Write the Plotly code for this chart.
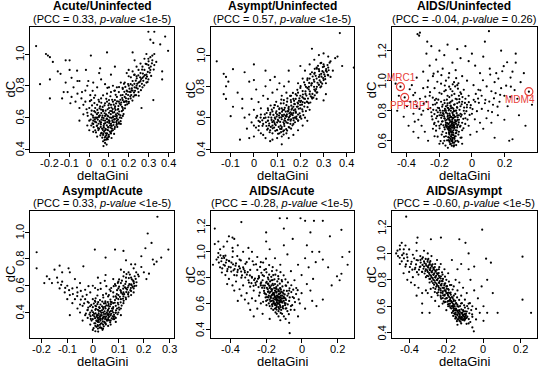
import plotly.graph_objects as go

W, H = 539, 372

# ---------------- data ----------------
panel_titles = ["Acute/Uninfected", "Asympt/Uninfected", "AIDS/Uninfected",
                "Asympt/Acute", "AIDS/Acute", "AIDS/Asympt"]
pcc_values = ["0.33", "0.57", "-0.04", "0.33", "-0.28", "-0.60"]
p_value_texts = ["<1e-5", "<1e-5", "= 0.26", "<1e-5", "<1e-5", "<1e-5"]
x_tick_values = [
    [-0.2, -0.1, 0, 0.1, 0.2, 0.3, 0.4],
    [-0.1, 0, 0.1, 0.2, 0.3, 0.4],
    [-0.4, -0.2, 0, 0.2],
    [-0.2, -0.1, 0, 0.1, 0.2, 0.3],
    [-0.4, -0.2, 0, 0.2],
    [-0.4, -0.2, 0, 0.2],
]
y_tick_values = [
    [0.4, 0.6, 0.8, 1.0],
    [0.4, 0.6, 0.8, 1.0],
    [0.6, 0.8, 1.0, 1.2],
    [0.4, 0.6, 0.8, 1.0],
    [0.4, 0.6, 0.8, 1.0, 1.2],
    [0.4, 0.6, 0.8, 1.0, 1.2],
]
x_label = "deltaGini"
y_label = "dC"

highlight_genes = ["MRC1", "PPFIBP1", "MDM4"]
highlight_x = [-0.44, -0.414, 0.351]
highlight_y = [0.96, 0.889, 0.927]

acute_vs_uninfected = [
    (0.01,0.62),(0.02,0.58),(0.03,0.66),(0.04,0.55),(0.05,0.61),(0.06,0.57),(0.07,0.64),(0.08,0.52),(0.09,0.59),(0.1,0.63),
    (0.11,0.56),(0.12,0.6),(0.13,0.66),(0.14,0.58),(0.15,0.62),(0.02,0.51),(0.04,0.68),(0.06,0.72),(0.08,0.69),(0.1,0.71),
    (0.12,0.7),(0.14,0.73),(0.16,0.68),(0.03,0.6),(0.05,0.53),(0.07,0.49),(0.09,0.47),(0.11,0.5),(0.13,0.54),(0.15,0.57),
    (0.0,0.66),(0.0,0.58),(-0.01,0.63),(-0.02,0.7),(0.01,0.55),(0.025,0.64),(0.035,0.57),(0.045,0.63),(0.055,0.67),(0.065,0.6),
    (0.075,0.56),(0.085,0.62),(0.095,0.54),(0.105,0.6),(0.115,0.64),(0.125,0.57),(0.135,0.62),(0.145,0.65),(0.155,0.6),(0.165,0.64),
    (0.07,0.45),(0.08,0.44),(0.09,0.5),(0.1,0.48),(0.085,0.46),(0.075,0.51),(0.065,0.53),(0.095,0.52),(0.105,0.55),(0.115,0.53),
    (0.03,0.52),(0.02,0.56),(0.04,0.6),(0.06,0.65),(0.08,0.58),(0.1,0.66),(0.12,0.63),(0.14,0.61),(0.11,0.68),(0.09,0.7),
    (0.05,0.7),(0.07,0.74),(0.13,0.71),(0.15,0.7),(0.17,0.66),(0.18,0.7),(0.06,0.5),(0.04,0.48),(0.12,0.52),(0.14,0.56),
    (0.01,0.71),(0.03,0.74),(-0.01,0.55),(0.0,0.52),(0.02,0.6),(0.16,0.56),(0.17,0.61),(0.13,0.59),(0.1,0.58),(0.08,0.61),
    (0.072,0.42),(0.088,0.43),
    (0.16,0.74),(0.17,0.78),(0.18,0.73),(0.19,0.77),(0.2,0.8),(0.21,0.76),(0.22,0.83),(0.23,0.79),(0.24,0.86),(0.25,0.82),
    (0.26,0.88),(0.27,0.85),(0.28,0.9),(0.29,0.87),(0.3,0.93),(0.31,0.9),(0.32,0.96),(0.33,0.93),(0.18,0.82),(0.2,0.86),
    (0.22,0.89),(0.24,0.92),(0.26,0.94),(0.28,0.97),(0.19,0.7),(0.21,0.72),(0.23,0.74),(0.25,0.76),(0.27,0.79),(0.29,0.82),
    (0.17,0.71),(0.2,0.69),(0.22,0.77),(0.24,0.8),(0.26,0.83),(0.23,0.87),(0.21,0.81),(0.25,0.9),(0.27,0.92),(0.3,0.84),
    (0.15,0.76),(0.14,0.79),(0.16,0.82),(0.13,0.77),(0.12,0.8),(0.11,0.76),(0.1,0.79),(0.09,0.75),(0.19,0.88),(0.31,0.98),
    (-0.03,0.68),(-0.04,0.72),(-0.05,0.66),(-0.06,0.75),(-0.07,0.7),(-0.02,0.77),(-0.08,0.79),(-0.09,0.73),(-0.03,0.62),(-0.01,0.8),
    (-0.05,0.58),(-0.12,0.82),(-0.13,0.76),(-0.06,0.83),(0.02,0.82),(0.04,0.79),(0.06,0.84),(0.08,0.81),(0.05,0.88),(0.11,0.87),
    (-0.27,1.05),(-0.25,0.81),(-0.22,1.0),(-0.21,0.99),(-0.2,0.98),(-0.2,0.84),(-0.2,0.72),(-0.185,0.95),(-0.16,0.89),(-0.146,0.875),
    (-0.138,0.72),(-0.12,0.96),(-0.1,0.96),(-0.1,0.9),(-0.09,0.85),(-0.11,0.76),(-0.096,0.69),(-0.062,0.895),(-0.05,0.83),(-0.037,0.76),
    (-0.017,0.9),(0.008,0.99),(-0.005,0.83),(0.09,1.01),(0.055,0.91),(0.13,0.92),(0.2,0.9),(0.22,1.01),(0.23,0.96),(0.3,1.14),
    (0.33,1.14),(0.31,1.09),(0.325,1.07),(0.36,1.06),(0.385,1.11),(0.4,1.02),(0.37,0.89),(0.37,0.84),(0.325,0.71),(0.265,0.66),
    (0.3,0.97),(0.32,0.99),(0.34,0.95),(0.33,1.0),(0.29,1.0),
]
acute_vs_uninfected_core = [
    (0.043,0.587),(0.067,0.612),(0.091,0.571),(0.112,0.598),(0.127,0.634),(0.058,0.541),(0.083,0.528),(0.104,0.512),(0.071,0.583),(0.096,0.607),
    (0.118,0.572),(0.139,0.596),(0.152,0.638),(0.031,0.633),(0.018,0.612),(0.052,0.658),(0.077,0.676),(0.101,0.688),(0.124,0.681),(0.148,0.672),
    (0.063,0.503),(0.087,0.489),(0.094,0.463),(0.079,0.474),(0.108,0.537),(0.123,0.553),(0.137,0.571),(0.046,0.521),(0.029,0.574),(0.012,0.643),
    (0.007,0.587),(0.022,0.539),(0.038,0.547),(0.049,0.603),(0.061,0.628),(0.073,0.597),(0.089,0.551),(0.099,0.583),(0.109,0.621),(0.121,0.608),
    (0.133,0.648),(0.143,0.627),(0.158,0.613),(0.171,0.647),(0.162,0.694),(0.141,0.702),(0.116,0.712),(0.093,0.652),(0.068,0.667),(0.041,0.648),
    (0.026,0.691),(0.014,0.676),(-0.008,0.611),(-0.014,0.652),(0.003,0.703),(0.057,0.567),(0.081,0.565),(0.097,0.538),(0.113,0.514),(0.128,0.528),
    (0.142,0.541),(0.084,0.501),(0.069,0.521),(0.053,0.577),(0.036,0.598),(0.101,0.566),(0.117,0.582),(0.131,0.608),(0.146,0.587),(0.159,0.577),
    (0.174,0.622),(0.181,0.658),(0.192,0.683),(0.176,0.698),(0.186,0.721),(0.197,0.742),(0.208,0.734),(0.214,0.771),(0.227,0.758),(0.238,0.787),
    (0.243,0.812),(0.256,0.798),(0.263,0.842),(0.274,0.831),(0.282,0.867),(0.293,0.858),(0.307,0.883),(0.312,0.921),(0.236,0.832),(0.219,0.803),
    (0.203,0.762),(0.187,0.748),(0.249,0.866),(0.268,0.902),(0.286,0.938),(0.301,0.954),(0.158,0.712),(0.169,0.742),(0.134,0.743),(0.107,0.734),
    (0.086,0.718),(0.061,0.693),(0.047,0.712),(0.024,0.724),(0.005,0.741),(0.017,0.768),(0.092,0.787),(0.127,0.768),(0.151,0.792),(0.176,0.812),
    (0.066,0.473),(0.077,0.458),(0.099,0.491),(0.056,0.488),(0.113,0.471),(0.126,0.497),(0.034,0.506),(0.047,0.561),(0.073,0.547),(0.088,0.593),
]
acute_vs_uninfected_arm = [
    (0.187,0.703),(0.198,0.718),(0.213,0.742),(0.224,0.731),(0.232,0.768),(0.246,0.782),(0.255,0.823),(0.267,0.812),(0.276,0.858),(0.288,0.846),
    (0.297,0.887),(0.304,0.912),(0.318,0.941),(0.291,0.936),(0.272,0.877),(0.258,0.853),(0.241,0.847),(0.229,0.812),(0.216,0.784),(0.204,0.782),
    (0.193,0.764),(0.178,0.762),(0.167,0.723),(0.154,0.687),(0.166,0.668),(0.183,0.678),(0.201,0.699),(0.219,0.707),(0.237,0.741),(0.251,0.737),
    (0.262,0.772),(0.279,0.803),(0.296,0.823),(0.314,0.862),(0.327,0.902),(0.228,0.868),(0.211,0.853),(0.197,0.811),(0.183,0.793),(0.169,0.787),
    (0.062,0.587),(0.078,0.627),(0.092,0.612),(0.106,0.641),(0.119,0.653),(0.131,0.671),(0.147,0.653),(0.136,0.689),(0.112,0.663),(0.097,0.677),
    (0.083,0.643),(0.069,0.648),(0.054,0.613),(0.039,0.621),(0.028,0.588),(0.016,0.563),(0.044,0.534),(0.059,0.556),(0.074,0.536),(0.091,0.523),
    (0.103,0.577),(0.114,0.547),(0.126,0.587),(0.138,0.553),(0.151,0.561),(0.163,0.597),(0.097,0.478),(0.082,0.482),(0.071,0.497),(0.108,0.503),
]

asympt_vs_uninfected = [
    (0.06,0.58),(0.07,0.62),(0.08,0.55),(0.09,0.6),(0.1,0.57),(0.11,0.63),(0.12,0.59),(0.13,0.56),(0.14,0.61),(0.15,0.65),
    (0.16,0.62),(0.17,0.67),(0.18,0.64),(0.19,0.69),(0.2,0.66),(0.08,0.64),(0.1,0.52),(0.12,0.54),(0.14,0.57),(0.16,0.59),
    (0.18,0.6),(0.2,0.7),(0.11,0.6),(0.13,0.62),(0.15,0.59),(0.17,0.63),(0.19,0.62),(0.09,0.56),(0.07,0.52),(0.05,0.6),
    (0.04,0.56),(0.03,0.62),(0.02,0.58),(0.06,0.66),(0.09,0.68),(0.12,0.66),(0.14,0.68),(0.16,0.7),(0.18,0.72),(0.1,0.62),
    (0.115,0.55),(0.125,0.61),(0.135,0.58),(0.145,0.64),(0.155,0.61),(0.165,0.66),(0.175,0.6),(0.185,0.67),(0.105,0.58),(0.095,0.63),
    (0.085,0.58),(0.075,0.6),(0.065,0.55),(0.055,0.63),(0.13,0.52),(0.11,0.5),(0.15,0.54),(0.17,0.56),(0.12,0.48),(0.1,0.47),
    (0.14,0.5),(0.08,0.5),(0.06,0.53),(0.16,0.53),(0.2,0.61),(0.21,0.64),(0.19,0.58),(0.13,0.65),(0.11,0.66),(0.15,0.67),
    (0.12,0.43),(0.08,0.46),(0.04,0.49),(0.02,0.52),(0.0,0.55),(0.01,0.6),(-0.01,0.57),(0.03,0.66),(-0.02,0.62),(0.0,0.65),
    (0.2,0.74),(0.21,0.77),(0.22,0.72),(0.23,0.79),(0.24,0.75),(0.25,0.82),(0.26,0.78),(0.27,0.85),(0.28,0.81),(0.29,0.88),
    (0.3,0.84),(0.31,0.9),(0.32,0.87),(0.22,0.81),(0.24,0.85),(0.26,0.88),(0.28,0.91),(0.3,0.94),(0.23,0.7),(0.25,0.73),
    (0.27,0.76),(0.29,0.8),(0.19,0.76),(0.21,0.7),(0.2,0.79),(0.18,0.75),(0.17,0.72),(0.16,0.74),(0.23,0.84),(0.25,0.89),
    (0.27,0.92),(0.29,0.95),(0.26,0.83),(0.28,0.86),(0.3,0.89),(0.32,0.92),(0.33,0.96),(0.24,0.94),(0.26,0.97),(0.22,0.9),
    (0.21,0.85),(0.19,0.82),(0.27,0.72),(0.31,0.82),(0.34,0.9),(0.28,1.0),(0.3,1.01),(0.25,1.04),(0.32,0.99),(0.35,0.98),
    (-0.04,0.6),(-0.03,0.53),(-0.05,0.66),(-0.02,0.47),(0.0,0.48),(0.02,0.7),(0.04,0.74),(0.06,0.72),(0.08,0.76),(0.05,0.8),
    (0.07,0.84),(0.1,0.78),(0.12,0.74),(0.13,0.8),(0.09,0.86),(0.11,0.82),(0.14,0.76),(0.15,0.83),(-0.01,0.72),(0.01,0.78),
    (0.03,0.5),(0.05,0.47),(0.07,0.45),(0.15,0.47),(0.17,0.49),(0.19,0.52),(0.21,0.55),(0.22,0.6),(0.24,0.65),(0.23,0.58),
    (-0.16,0.96),(-0.13,0.88),(-0.12,0.86),(-0.12,0.8),(-0.11,0.83),(-0.13,0.75),(-0.12,0.72),(-0.09,0.91),(-0.04,0.89),(0.0,0.94),
    (-0.02,0.83),(0.0,0.84),(0.05,0.9),(-0.1,0.61),(-0.09,0.67),(-0.06,0.46),(0.37,1.14),(0.36,0.99),(0.38,0.93),(0.43,0.92),
    (0.33,0.86),(0.3,0.71),(0.31,0.75),(0.2,0.93),(0.15,0.9),(-0.07,0.76),(-0.05,0.72),
]
asympt_vs_uninfected_core = [
    (0.103,0.587),(0.118,0.603),(0.127,0.571),(0.134,0.596),(0.142,0.621),(0.151,0.603),(0.163,0.628),(0.172,0.647),(0.181,0.631),(0.193,0.657),
    (0.088,0.571),(0.094,0.553),(0.107,0.541),(0.119,0.528),(0.131,0.547),(0.146,0.566),(0.158,0.581),(0.169,0.598),(0.183,0.607),(0.197,0.628),
    (0.076,0.586),(0.063,0.603),(0.071,0.631),(0.084,0.618),(0.097,0.641),(0.112,0.627),(0.124,0.648),(0.137,0.639),(0.149,0.661),(0.161,0.677),
    (0.174,0.688),(0.188,0.697),(0.203,0.708),(0.214,0.723),(0.207,0.683),(0.219,0.694),(0.226,0.741),(0.233,0.722),(0.241,0.768),(0.252,0.752),
    (0.259,0.797),(0.268,0.783),(0.274,0.823),(0.283,0.838),(0.291,0.862),(0.303,0.876),(0.311,0.911),(0.297,0.923),(0.281,0.897),(0.266,0.867),
    (0.248,0.818),(0.237,0.797),(0.222,0.768),(0.211,0.748),(0.196,0.723),(0.185,0.741),(0.173,0.708),(0.159,0.713),(0.143,0.702),(0.128,0.692),
    (0.052,0.571),(0.043,0.597),(0.037,0.548),(0.057,0.523),(0.068,0.507),(0.081,0.532),(0.092,0.516),(0.104,0.497),(0.117,0.508),(0.128,0.492),
    (0.139,0.527),(0.153,0.537),(0.166,0.551),(0.177,0.571),(0.191,0.583),(0.204,0.594),(0.213,0.617),(0.224,0.642),(0.231,0.667),(0.243,0.697),
    (0.251,0.722),(0.262,0.743),(0.273,0.762),(0.286,0.794),(0.294,0.817),(0.307,0.846),(0.318,0.873),(0.322,0.903),(0.287,0.948),(0.276,0.931),
    (0.262,0.912),(0.243,0.878),(0.231,0.851),(0.216,0.826),(0.201,0.801),(0.187,0.778),(0.026,0.573),(0.014,0.611),(0.009,0.537),(0.098,0.607),
    (0.113,0.573),(0.121,0.617),(0.136,0.612),(0.147,0.587),(0.157,0.634),(0.109,0.654),(0.086,0.663),(0.072,0.678),(0.096,0.701),(0.118,0.716),
]
asympt_vs_uninfected_band = [
    (0.131,0.583),(0.141,0.607),(0.153,0.627),(0.167,0.617),(0.178,0.653),(0.189,0.671),(0.199,0.681),(0.208,0.653),(0.217,0.671),(0.228,0.703),
    (0.236,0.693),(0.245,0.736),(0.256,0.728),(0.264,0.771),(0.271,0.797),(0.279,0.812),(0.288,0.827),(0.298,0.853),(0.306,0.864),(0.314,0.893),
    (0.258,0.842),(0.247,0.806),(0.236,0.781),(0.222,0.752),(0.209,0.731),(0.194,0.708),(0.176,0.686),(0.162,0.651),(0.147,0.641),(0.133,0.663),
    (0.121,0.638),(0.108,0.614),(0.092,0.593),(0.079,0.572),(0.066,0.563),(0.054,0.547),(0.047,0.621),(0.061,0.648),(0.077,0.652),(0.089,0.681),
    (0.103,0.673),(0.116,0.691),(0.129,0.712),(0.144,0.723),(0.156,0.739),(0.168,0.758),(0.113,0.528),(0.126,0.513),(0.143,0.518),(0.157,0.561),
    (0.171,0.583),(0.184,0.592),(0.198,0.603),(0.087,0.537),(0.099,0.521),(0.073,0.541),(0.061,0.582),(0.036,0.583),(0.021,0.547),(0.029,0.601),
    (0.283,0.874),(0.295,0.897),(0.302,0.927),(0.317,0.936),(0.326,0.951),(0.271,0.913),(0.262,0.887),(0.253,0.863),(0.238,0.822),(0.224,0.797),
]

aids_vs_uninfected = [
    (-0.13,0.7),(-0.12,0.66),(-0.14,0.74),(-0.11,0.72),(-0.15,0.68),(-0.1,0.76),(-0.13,0.63),(-0.12,0.79),(-0.16,0.72),(-0.09,0.7),
    (-0.14,0.65),(-0.11,0.62),(-0.13,0.76),(-0.12,0.73),(-0.15,0.78),(-0.1,0.67),(-0.08,0.74),(-0.17,0.75),(-0.12,0.69),(-0.14,0.81),
    (-0.11,0.84),(-0.13,0.86),(-0.16,0.83),(-0.18,0.8),(-0.09,0.82),(-0.07,0.78),(-0.06,0.72),(-0.1,0.88),(-0.15,0.9),(-0.19,0.86),
    (-0.2,0.77),(-0.21,0.82),(-0.17,0.69),(-0.19,0.71),(-0.08,0.66),(-0.07,0.62),(-0.12,0.6),(-0.14,0.6),(-0.1,0.63),(-0.13,0.58),
    (-0.11,0.57),(-0.09,0.6),(-0.16,0.63),(-0.18,0.66),(-0.2,0.7),(-0.22,0.75),(-0.05,0.8),(-0.04,0.75),(-0.06,0.86),(-0.08,0.9),
    (-0.12,0.93),(-0.14,0.96),(-0.17,0.93),(-0.2,0.92),(-0.22,0.88),(-0.24,0.84),(-0.25,0.79),(-0.23,0.72),(-0.03,0.84),(-0.02,0.9),
    (-0.05,0.94),(-0.09,0.97),(-0.11,0.99),(-0.16,1.0),(-0.19,0.98),(-0.23,0.95),(-0.26,0.9),(-0.28,0.86),(-0.27,0.81),(-0.3,0.8),
    (-0.125,0.71),(-0.135,0.68),(-0.115,0.75),(-0.145,0.71),(-0.105,0.69),(-0.125,0.64),(-0.135,0.77),(-0.115,0.67),(-0.155,0.74),(-0.095,0.73),
    (-0.13,0.83),(-0.11,0.8),(-0.15,0.85),(-0.17,0.87),(-0.07,0.83),(-0.04,0.88),(-0.01,0.82),(0.0,0.78),(0.02,0.86),(-0.02,0.7),
    (-0.32,0.88),(-0.34,0.83),(-0.36,0.78),(-0.33,0.74),(-0.31,0.7),(-0.29,0.66),(-0.35,0.92),(-0.38,0.86),(-0.37,0.97),(-0.3,0.95),
    (-0.27,1.0),(-0.24,1.03),(-0.21,1.06),(-0.18,1.08),(-0.14,1.05),(-0.1,1.07),(-0.06,1.03),(-0.03,1.0),(0.01,0.97),(0.04,0.94),
    (0.06,0.9),(0.08,0.85),(0.1,0.8),(0.12,0.93),(0.14,0.99),(0.05,1.05),(0.02,1.1),(-0.02,1.13),(-0.07,1.15),(-0.12,1.12),
    (-0.17,1.17),(-0.22,1.14),(-0.26,1.1),(-0.3,1.06),(-0.34,1.02),(-0.28,1.18),(-0.2,1.2),(-0.09,1.21),(0.0,1.18),(0.07,1.16),
    (0.11,1.08),(0.15,1.05),(0.18,0.95),(0.2,0.9),(0.17,0.86),(0.13,0.84),(0.09,0.75),(0.05,0.72),(0.03,0.66),(-0.01,0.64),
    (0.07,0.68),(0.12,0.72),(0.16,0.77),(0.2,0.74),(0.22,0.83),(0.24,0.96),(0.25,1.06),(0.27,1.12),(0.3,0.99),(0.28,0.88),
    (-0.4,0.83),(-0.42,0.76),(-0.39,0.7),(-0.36,0.66),(-0.33,0.62),(-0.27,0.6),(-0.23,0.63),(-0.2,0.58),(-0.17,0.6),(-0.06,0.58),
    (-0.14,0.62),(-0.12,0.62),(-0.1,0.65),(-0.11,0.7),(-0.13,0.73),(-0.15,0.76),(-0.16,0.79),(-0.12,0.82),(-0.1,0.8),(-0.08,0.77),
    (-0.14,0.67),(-0.16,0.7),(-0.18,0.73),(-0.19,0.77),(-0.17,0.8),(-0.13,0.8),(-0.09,0.85),(-0.07,0.7),(-0.06,0.67),(-0.11,0.77),
    (-0.12,0.64),(-0.13,0.66),(-0.14,0.69),(-0.1,0.73),(-0.09,0.77),(-0.15,0.82),(-0.18,0.84),(-0.21,0.79),(-0.22,0.7),(-0.24,0.68),
    (-0.335,1.31),(-0.32,1.32),(-0.325,1.3),(-0.275,1.26),(0.105,1.33),(-0.15,1.24),(-0.04,1.23),(0.27,1.18),(0.23,0.6),(0.25,0.61),
    (0.37,0.84),(-0.47,0.98),(-0.45,0.9),(-0.44,0.96),(-0.414,0.889),(0.351,0.927),(-0.46,0.8),(0.32,1.05),(0.29,0.77),(0.18,1.2),
    (0.08,1.26),(-0.25,1.23),(0.33,0.7),(0.14,0.62),
]
aids_vs_uninfected_core = [
    (-0.127,0.687),(-0.118,0.703),(-0.136,0.722),(-0.142,0.694),(-0.109,0.681),(-0.121,0.742),(-0.133,0.758),(-0.116,0.771),(-0.147,0.748),(-0.152,0.717),
    (-0.098,0.712),(-0.104,0.738),(-0.126,0.654),(-0.139,0.641),(-0.113,0.637),(-0.131,0.612),(-0.122,0.596),(-0.107,0.613),(-0.144,0.673),(-0.157,0.692),
    (-0.163,0.734),(-0.171,0.763),(-0.158,0.787),(-0.143,0.803),(-0.128,0.817),(-0.111,0.796),(-0.094,0.784),(-0.087,0.756),(-0.081,0.722),(-0.091,0.689),
    (-0.096,0.653),(-0.117,0.586),(-0.134,0.577),(-0.124,0.567),(-0.112,0.562),(-0.146,0.624),(-0.158,0.651),(-0.167,0.676),(-0.176,0.703),(-0.184,0.728),
    (-0.189,0.753),(-0.178,0.784),(-0.166,0.812),(-0.151,0.836),(-0.137,0.852),(-0.121,0.867),(-0.106,0.843),(-0.092,0.824),(-0.076,0.806),(-0.068,0.761),
    (-0.073,0.694),(-0.083,0.641),(-0.102,0.598),(-0.153,0.603),(-0.171,0.626),(-0.186,0.641),(-0.199,0.683),(-0.207,0.728),(-0.214,0.764),(-0.197,0.803),
    (-0.183,0.827),(-0.168,0.851),(-0.154,0.874),(-0.139,0.891),(-0.124,0.903),(-0.108,0.912),(-0.093,0.876),(-0.078,0.857),(-0.063,0.843),(-0.048,0.821),
    (-0.034,0.797),(-0.043,0.852),(-0.058,0.891),(-0.071,0.923),(-0.086,0.947),(-0.103,0.962),(-0.132,0.944),(-0.161,0.937),(-0.187,0.913),(-0.207,0.874),
    (-0.226,0.843),(-0.238,0.806),(-0.247,0.763),(-0.233,0.711),(-0.221,0.667),(-0.211,0.627),(-0.193,0.598),(-0.178,0.583),(-0.163,0.568),(-0.148,0.553),
    (-0.097,0.571),(-0.083,0.593),(-0.064,0.621),(-0.052,0.683),(-0.041,0.712),(-0.027,0.741),(-0.014,0.772),(0.004,0.811),(0.018,0.743),(0.031,0.797),
    (-0.258,0.924),(-0.273,0.957),(-0.287,0.894),(-0.297,0.847),(-0.311,0.774),(-0.323,0.812),(-0.347,0.863),(-0.361,0.904),(-0.383,0.943),(-0.352,0.727),
    (0.043,0.853),(0.061,0.812),(0.083,0.873),(0.107,0.861),(0.124,0.791),(0.146,0.917),(0.163,1.014),(0.187,1.063),(0.211,0.967),(0.236,0.893),
]
aids_vs_uninfected_cloud = [
    (-0.131,0.701),(-0.122,0.717),(-0.137,0.738),(-0.143,0.712),(-0.112,0.693),(-0.126,0.758),(-0.138,0.781),(-0.117,0.752),(-0.148,0.767),(-0.153,0.698),
    (-0.101,0.726),(-0.108,0.758),(-0.129,0.671),(-0.141,0.657),(-0.116,0.653),(-0.128,0.627),(-0.119,0.611),(-0.105,0.628),(-0.147,0.684),(-0.161,0.708),
    (-0.167,0.748),(-0.174,0.778),(-0.161,0.803),(-0.146,0.818),(-0.131,0.834),(-0.114,0.813),(-0.097,0.801),(-0.089,0.739),(-0.084,0.708),(-0.093,0.667),
    (-0.121,0.688),(-0.134,0.697),(-0.124,0.726),(-0.111,0.709),(-0.139,0.753),(-0.119,0.783),(-0.127,0.603),(-0.137,0.592),(-0.143,0.604),(-0.109,0.587),
    (-0.182,0.768),(-0.193,0.787),(-0.202,0.817),(-0.216,0.853),(-0.228,0.871),(-0.241,0.887),(-0.219,0.803),(-0.231,0.778),(-0.243,0.742),(-0.256,0.818),
    (-0.063,0.773),(-0.053,0.746),(-0.044,0.781),(-0.031,0.823),(-0.019,0.857),(-0.007,0.837),(0.011,0.873),(0.024,0.912),(0.038,0.881),(0.052,0.936),
    (-0.077,0.877),(-0.066,0.912),(-0.083,0.983),(-0.097,1.017),(-0.118,0.976),(-0.143,1.021),(-0.167,0.968),(-0.188,1.037),(-0.213,0.993),(-0.236,1.047),
    (0.068,1.003),(0.091,0.962),(0.113,1.041),(0.136,0.883),(0.158,0.827),(0.174,0.906),(0.196,1.097),(0.217,1.123),(0.238,1.021),(0.263,0.938),
]

asympt_vs_acute = [
    (0.0,0.35),(0.01,0.32),(0.02,0.38),(0.03,0.34),(0.04,0.4),(0.05,0.36),(0.06,0.42),(0.07,0.38),(0.08,0.44),(0.09,0.4),
    (0.1,0.46),(-0.01,0.4),(-0.02,0.36),(0.0,0.44),(0.01,0.3),(0.02,0.33),(0.03,0.29),(0.04,0.36),(0.05,0.32),(0.06,0.38),
    (0.07,0.34),(0.08,0.4),(0.09,0.45),(0.02,0.42),(0.03,0.46),(0.01,0.48),(0.04,0.44),(0.05,0.47),(0.06,0.35),(0.07,0.31),
    (0.0,0.27),(0.01,0.26),(0.02,0.28),(-0.01,0.31),(-0.02,0.42),(-0.03,0.38),(-0.04,0.45),(-0.03,0.5),(0.0,0.5),(0.02,0.36),
    (0.025,0.35),(0.035,0.38),(0.045,0.33),(0.015,0.37),(0.005,0.39),(0.055,0.4),(0.065,0.37),(0.075,0.43),(0.085,0.37),(0.095,0.43),
    (0.03,0.41),(0.04,0.31),(0.05,0.39),(0.06,0.45),(0.07,0.48),(0.08,0.35),(0.09,0.36),(0.1,0.4),(0.11,0.43),(0.12,0.47),
    (0.015,0.34),(0.025,0.44),(0.035,0.32),(0.045,0.37),(0.055,0.34),(0.01,0.42),(-0.005,0.34),(0.02,0.3),(0.04,0.28),(0.06,0.3),
    (0.03,0.37),(0.05,0.43),(0.07,0.41),(0.0,0.38),(0.01,0.45),(0.08,0.47),(0.1,0.5),(0.09,0.33),(0.11,0.38),(-0.05,0.4),
    (0.1,0.53),(0.11,0.56),(0.12,0.52),(0.13,0.58),(0.14,0.55),(0.15,0.61),(0.16,0.58),(0.12,0.6),(0.13,0.63),(0.14,0.6),
    (0.15,0.56),(0.16,0.63),(0.11,0.5),(0.09,0.52),(0.08,0.55),(0.1,0.58),(0.12,0.55),(0.13,0.5),(0.14,0.52),(0.15,0.53),
    (0.16,0.55),(0.17,0.6),(0.11,0.62),(0.13,0.66),(0.15,0.66),(0.12,0.67),(0.1,0.63),(0.09,0.6),(0.07,0.56),(0.06,0.52),
    (0.17,0.7),(0.18,0.67),(0.2,0.7),(0.21,0.65),(0.22,0.69),(0.19,0.74),(0.14,0.7),(0.16,0.73),(0.11,0.72),(0.08,0.65),
    (-0.02,0.48),(-0.04,0.52),(-0.05,0.46),(-0.06,0.55),(-0.07,0.5),(-0.08,0.58),(-0.09,0.53),(-0.1,0.6),(-0.11,0.55),(-0.12,0.63),
    (-0.13,0.58),(-0.14,0.66),(-0.03,0.57),(-0.05,0.62),(-0.07,0.65),(-0.01,0.55),(0.0,0.6),(0.02,0.57),(0.04,0.53),(0.03,0.62),
    (-0.06,0.43),(-0.08,0.47),(-0.1,0.5),(-0.12,0.7),(-0.15,0.72),(-0.16,0.62),(-0.09,0.38),(-0.04,0.34),(0.02,0.66),(0.05,0.68),
    (-0.22,0.85),(-0.22,0.73),(-0.18,0.67),(-0.17,0.65),(-0.13,0.75),(-0.095,0.73),(-0.09,0.7),(-0.037,0.745),(0.008,0.87),(0.087,0.87),
    (0.12,0.86),(0.05,0.81),(0.13,0.79),(0.253,1.115),(0.215,0.99),(0.23,0.92),(0.206,0.88),(0.296,0.87),(0.268,0.81),(0.235,0.795),
    (0.24,0.76),(0.166,0.76),(0.15,0.76),(0.19,0.82),(0.25,0.78),(-0.19,0.62),
]
asympt_vs_acute_core = [
    (0.027,0.367),(0.038,0.352),(0.016,0.381),(0.044,0.389),(0.052,0.372),(0.033,0.398),(0.021,0.343),(0.009,0.358),(0.061,0.364),(0.072,0.391),
    (0.058,0.413),(0.041,0.427),(0.024,0.412),(0.012,0.427),(-0.004,0.414),(-0.013,0.386),(-0.008,0.352),(0.006,0.319),(0.019,0.307),(0.032,0.318),
    (0.047,0.324),(0.059,0.341),(0.074,0.356),(0.083,0.383),(0.091,0.417),(0.079,0.428),(0.067,0.447),(0.053,0.453),(0.036,0.447),(0.018,0.462),
    (0.004,0.467),(-0.011,0.447),(-0.021,0.417),(-0.027,0.392),(0.014,0.293),(0.027,0.287),(0.043,0.297),(0.003,0.283),(0.038,0.271),(0.021,0.258),
    (0.097,0.387),(0.104,0.421),(0.113,0.452),(0.098,0.472),(0.087,0.493),(0.121,0.487),(0.129,0.512),(0.117,0.537),(0.106,0.517),(0.094,0.538),
    (0.138,0.537),(0.147,0.567),(0.134,0.571),(0.156,0.591),(0.143,0.612),(0.161,0.617),(0.126,0.588),(0.108,0.567),(0.081,0.518),(0.069,0.497),
    (0.049,0.483),(0.028,0.493),(0.011,0.506),(-0.016,0.473),(-0.034,0.468),(-0.047,0.497),(-0.061,0.523),(-0.078,0.538),(-0.093,0.567),(-0.108,0.584),
    (-0.124,0.607),(-0.137,0.624),(-0.062,0.587),(-0.047,0.561),(-0.024,0.532),(0.018,0.527),(0.041,0.512),(0.063,0.531),(0.072,0.583),(0.053,0.597),
    (0.031,0.576),(0.009,0.583),(-0.017,0.597),(0.047,0.637),(0.087,0.612),(0.103,0.647),(0.122,0.702),(0.141,0.657),(0.168,0.651),(0.177,0.683),
    (0.011,0.393),(0.029,0.381),(0.046,0.408),(0.063,0.388),(0.076,0.412),(0.055,0.347),(0.039,0.334),(0.024,0.329),(0.068,0.327),(0.084,0.351),
]
asympt_vs_acute_arm = [
    (0.031,0.352),(0.042,0.369),(0.019,0.362),(0.048,0.351),(0.057,0.388),(0.036,0.417),(0.023,0.393),(0.006,0.371),(0.065,0.403),(0.078,0.372),
    (0.063,0.431),(0.044,0.468),(0.027,0.433),(0.013,0.447),(0.001,0.402),(-0.009,0.373),(0.014,0.338),(0.028,0.308),(0.051,0.311),(0.066,0.342),
    (0.081,0.367),(0.089,0.398),(0.071,0.462),(0.059,0.478),(0.037,0.482),(0.021,0.477),(0.008,0.487),(-0.006,0.457),(-0.018,0.437),(0.034,0.283),
    (0.102,0.437),(0.109,0.476),(0.118,0.503),(0.123,0.537),(0.131,0.553),(0.137,0.587),(0.149,0.583),(0.152,0.604),(0.158,0.638),(0.163,0.597),
    (0.127,0.613),(0.119,0.578),(0.111,0.547),(0.093,0.507),(0.086,0.473),(0.074,0.478),(0.062,0.463),(0.048,0.442),(0.103,0.593),(0.095,0.567),
    (0.171,0.626),(0.164,0.671),(0.153,0.647),(0.145,0.683),(0.132,0.687),(0.114,0.638),(0.098,0.621),(0.082,0.597),(0.066,0.572),(0.052,0.541),
]

aids_vs_acute = [
    (-0.15,0.65),(-0.14,0.62),(-0.16,0.68),(-0.13,0.6),(-0.17,0.66),(-0.12,0.63),(-0.15,0.7),(-0.18,0.72),(-0.14,0.58),(-0.11,0.61),
    (-0.16,0.6),(-0.13,0.67),(-0.19,0.69),(-0.12,0.57),(-0.1,0.62),(-0.17,0.74),(-0.2,0.76),(-0.14,0.69),(-0.15,0.56),(-0.13,0.54),
    (-0.11,0.66),(-0.09,0.6),(-0.18,0.63),(-0.2,0.67),(-0.21,0.72),(-0.16,0.64),(-0.145,0.63),(-0.155,0.67),(-0.135,0.65),(-0.165,0.71),
    (-0.125,0.61),(-0.175,0.69),(-0.185,0.66),(-0.105,0.58),(-0.115,0.55),(-0.14,0.66),(-0.13,0.7),(-0.12,0.68),(-0.15,0.6),(-0.17,0.62),
    (-0.19,0.75),(-0.22,0.78),(-0.21,0.68),(-0.23,0.74),(-0.24,0.8),(-0.22,0.82),(-0.19,0.8),(-0.17,0.78),(-0.15,0.75),(-0.12,0.72),
    (-0.1,0.7),(-0.08,0.66),(-0.07,0.62),(-0.09,0.56),(-0.11,0.52),(-0.13,0.5),(-0.16,0.55),(-0.18,0.58),(-0.2,0.62),(-0.06,0.58),
    (-0.08,0.54),(-0.1,0.5),(-0.12,0.47),(-0.14,0.52),(-0.05,0.65),(-0.07,0.7),(-0.09,0.74),(-0.11,0.77),(-0.13,0.79),(-0.16,0.82),
    (-0.145,0.59),(-0.125,0.65),(-0.105,0.64),(-0.165,0.58),(-0.185,0.6),(-0.195,0.65),(-0.155,0.72),(-0.135,0.74),(-0.115,0.69),(-0.095,0.67),
    (-0.26,0.76),(-0.28,0.8),(-0.3,0.78),(-0.32,0.84),(-0.34,0.8),(-0.36,0.86),(-0.38,0.82),(-0.4,0.88),(-0.42,0.85),(-0.44,0.9),
    (-0.46,0.88),(-0.27,0.7),(-0.29,0.73),(-0.31,0.68),(-0.33,0.74),(-0.35,0.71),(-0.37,0.77),(-0.39,0.74),(-0.41,0.79),(-0.43,0.82),
    (-0.25,0.86),(-0.27,0.9),(-0.29,0.86),(-0.31,0.92),(-0.33,0.88),(-0.35,0.94),(-0.37,0.91),(-0.39,0.96),(-0.41,0.93),(-0.43,0.97),
    (-0.45,0.95),(-0.47,0.99),(-0.24,0.66),(-0.26,0.62),(-0.28,0.64),(-0.3,0.6),(-0.32,0.63),(-0.34,0.66),(-0.36,0.62),(-0.25,0.56),
    (-0.23,0.6),(-0.21,0.86),(-0.23,0.92),(-0.25,0.96),(-0.28,1.0),(-0.3,1.03),(-0.33,1.0),(-0.36,1.05),(-0.39,1.03),(-0.42,1.08),
    (-0.44,1.04),(-0.46,1.02),(-0.48,0.94),(-0.47,1.08),(-0.45,0.84),(-0.42,0.75),(-0.38,0.7),(-0.29,0.55),(-0.27,0.5),(-0.22,0.52),
    (-0.06,0.85),(-0.04,0.78),(-0.02,0.9),(0.0,0.82),(0.02,0.95),(0.04,0.88),(0.06,1.0),(0.08,0.92),(-0.08,0.98),(-0.1,1.05),
    (-0.12,0.9),(-0.05,1.1),(0.03,1.05),(0.1,1.0),(0.12,0.94),(0.15,0.88),(-0.15,0.95),(-0.18,1.02),(-0.2,1.08),(-0.03,0.72),
    (0.0,0.68),(0.03,0.75),(0.05,0.7),(-0.01,0.6),(-0.04,0.55),(-0.02,0.5),(0.02,0.56),(0.06,0.62),(-0.07,0.45),(-0.09,0.48),
    (-0.49,1.18),(-0.34,1.23),(-0.123,1.26),(-0.082,1.26),(-0.006,1.26),(0.02,1.24),(0.07,1.24),(0.12,1.24),(0.225,1.17),(0.27,1.0),
    (0.23,0.96),(0.2,0.81),(0.225,0.83),(0.215,0.78),(0.065,0.79),(-0.067,0.37),(-0.18,0.48),(0.084,0.58),(0.12,0.63),(-0.41,1.12),
    (-0.39,1.11),(-0.38,1.1),(-0.49,1.06),(0.17,0.74),(-0.2,1.15),(-0.1,1.18),(0.05,1.15),(0.16,1.12),(0.26,0.9),(-0.5,0.9),
]
aids_vs_acute_core = [
    (-0.147,0.647),(-0.139,0.633),(-0.153,0.661),(-0.131,0.621),(-0.162,0.677),(-0.127,0.642),(-0.143,0.683),(-0.168,0.697),(-0.136,0.597),(-0.118,0.613),
    (-0.157,0.612),(-0.149,0.587),(-0.121,0.581),(-0.109,0.607),(-0.113,0.637),(-0.173,0.643),(-0.181,0.681),(-0.191,0.711),(-0.177,0.727),(-0.159,0.741),
    (-0.141,0.712),(-0.128,0.693),(-0.117,0.707),(-0.103,0.677),(-0.097,0.643),(-0.088,0.627),(-0.093,0.587),(-0.104,0.561),(-0.127,0.558),(-0.141,0.553),
    (-0.167,0.593),(-0.193,0.627),(-0.203,0.647),(-0.212,0.697),(-0.223,0.721),(-0.231,0.753),(-0.207,0.738),(-0.197,0.767),(-0.187,0.787),(-0.171,0.806),
    (-0.153,0.787),(-0.137,0.771),(-0.123,0.753),(-0.108,0.732),(-0.083,0.697),(-0.074,0.677),(-0.067,0.647),(-0.078,0.593),(-0.086,0.563),(-0.118,0.527),
    (-0.147,0.531),(-0.171,0.561),(-0.198,0.587),(-0.217,0.613),(-0.236,0.684),(-0.243,0.727),(-0.252,0.771),(-0.263,0.793),(-0.241,0.812),(-0.227,0.838),
    (-0.212,0.812),(-0.198,0.841),(-0.183,0.823),(-0.167,0.851),(-0.148,0.823),(-0.132,0.811),(-0.271,0.737),(-0.283,0.757),(-0.292,0.817),(-0.304,0.843),
    (-0.318,0.801),(-0.327,0.867),(-0.341,0.847),(-0.353,0.887),(-0.366,0.817),(-0.378,0.867),(-0.387,0.903),(-0.397,0.847),(-0.408,0.927),(-0.418,0.867),
    (-0.427,0.917),(-0.437,0.953),(-0.448,0.871),(-0.458,0.973),(-0.467,0.917),(-0.388,1.003),(-0.363,0.967),(-0.343,0.933),(-0.317,0.907),(-0.296,0.947),
    (-0.276,0.927),(-0.257,0.903),(-0.234,0.883),(-0.217,0.917),(-0.201,0.947),(-0.183,0.897),(-0.163,0.881),(-0.141,0.857),(-0.119,0.842),(-0.101,0.818),
    (-0.091,0.787),(-0.077,0.763),(-0.058,0.741),(-0.047,0.707),(-0.031,0.673),(-0.016,0.631),(-0.037,0.611),(-0.053,0.587),(-0.061,0.551),(-0.072,0.517),
]
aids_vs_acute_band = [
    (-0.151,0.653),(-0.143,0.641),(-0.158,0.672),(-0.134,0.627),(-0.166,0.667),(-0.129,0.652),(-0.146,0.693),(-0.171,0.711),(-0.139,0.607),(-0.122,0.621),
    (-0.162,0.623),(-0.154,0.597),(-0.124,0.593),(-0.112,0.618),(-0.118,0.647),(-0.176,0.653),(-0.186,0.693),(-0.196,0.721),(-0.183,0.738),(-0.163,0.752),
    (-0.143,0.727),(-0.131,0.707),(-0.121,0.717),(-0.107,0.687),(-0.101,0.653),(-0.091,0.637),(-0.096,0.603),(-0.108,0.571),(-0.131,0.571),(-0.144,0.567),
    (-0.152,0.631),(-0.137,0.657),(-0.156,0.683),(-0.148,0.717),(-0.127,0.673),(-0.117,0.661),(-0.176,0.616),(-0.188,0.647),(-0.207,0.677),(-0.217,0.738),
    (-0.228,0.763),(-0.246,0.791),(-0.258,0.743),(-0.268,0.781),(-0.281,0.807),(-0.297,0.762),(-0.309,0.823),(-0.321,0.853),(-0.336,0.817),(-0.348,0.871),
    (-0.362,0.843),(-0.373,0.893),(-0.384,0.857),(-0.396,0.917),(-0.411,0.883),(-0.423,0.937),(-0.433,0.893),(-0.441,0.967),(-0.453,0.927),(-0.471,0.957),
    (-0.201,0.866),(-0.188,0.753),(-0.178,0.771),(-0.163,0.781),(-0.112,0.781),(-0.087,0.737),(-0.068,0.717),(-0.058,0.688),(-0.043,0.642),(-0.022,0.703),
]

aids_vs_asympt = [
    (-0.12,0.52),(-0.12,0.55),(-0.12,0.5),(-0.11,0.53),(-0.11,0.5),(-0.1,0.52),(-0.1,0.54),(-0.13,0.54),(-0.13,0.57),(-0.13,0.52),
    (-0.14,0.56),(-0.14,0.6),(-0.14,0.53),(-0.15,0.58),(-0.15,0.62),(-0.15,0.55),(-0.16,0.6),(-0.16,0.64),(-0.16,0.57),(-0.17,0.63),
    (-0.17,0.67),(-0.17,0.6),(-0.18,0.65),(-0.18,0.7),(-0.18,0.62),(-0.19,0.68),(-0.19,0.73),(-0.19,0.64),(-0.2,0.7),(-0.2,0.75),
    (-0.2,0.66),(-0.21,0.72),(-0.21,0.77),(-0.21,0.68),(-0.22,0.74),(-0.22,0.79),(-0.22,0.7),(-0.23,0.76),(-0.23,0.81),(-0.23,0.72),
    (-0.24,0.78),(-0.24,0.83),(-0.24,0.74),(-0.25,0.8),(-0.25,0.85),(-0.25,0.76),(-0.26,0.82),(-0.26,0.87),(-0.26,0.78),(-0.27,0.84),
    (-0.27,0.89),(-0.27,0.8),(-0.28,0.86),(-0.28,0.91),(-0.28,0.82),(-0.29,0.88),(-0.29,0.93),(-0.29,0.84),(-0.3,0.9),(-0.3,0.95),
    (-0.3,0.86),(-0.31,0.92),(-0.31,0.88),(-0.32,0.94),(-0.32,0.9),(-0.33,0.96),(-0.33,0.86),(-0.125,0.51),(-0.135,0.55),(-0.145,0.57),
    (-0.155,0.6),(-0.165,0.62),(-0.175,0.64),(-0.185,0.67),(-0.195,0.7),(-0.205,0.72),(-0.215,0.74),(-0.225,0.77),(-0.235,0.79),(-0.245,0.81),
    (-0.255,0.83),(-0.265,0.85),(-0.275,0.87),(-0.285,0.89),(-0.295,0.91),(-0.115,0.55),(-0.105,0.5),(-0.095,0.53),(-0.13,0.49),(-0.14,0.5),
    (-0.11,0.57),(-0.1,0.59),(-0.09,0.56),(-0.16,0.68),(-0.18,0.76),(-0.2,0.8),(-0.22,0.84),(-0.24,0.88),(-0.26,0.92),(-0.19,0.6),
    (-0.21,0.63),(-0.23,0.67),(-0.25,0.7),(-0.27,0.74),(-0.29,0.78),(-0.31,0.82),(-0.15,0.52),(-0.17,0.55),(-0.14,0.46),(-0.12,0.47),
    (-0.34,0.9),(-0.35,0.84),(-0.36,0.95),(-0.37,0.88),(-0.38,0.82),(-0.39,0.92),(-0.4,0.86),(-0.41,0.97),(-0.42,0.9),(-0.43,1.0),
    (-0.44,0.94),(-0.45,1.03),(-0.46,0.98),(-0.42,1.06),(-0.4,1.03),(-0.38,0.99),(-0.36,1.02),(-0.34,0.98),(-0.44,1.08),(-0.41,0.8),
    (-0.39,0.78),(-0.37,0.76),(-0.35,0.74),(-0.33,0.7),(-0.31,0.72),(-0.43,0.85),(-0.45,0.92),(-0.47,1.0),(-0.32,1.02),(-0.3,1.0),
    (-0.28,0.98),(-0.25,0.95),(-0.23,0.92),(-0.21,0.88),(-0.19,0.85),
    (-0.16,0.75),(-0.14,0.72),(-0.12,0.68),(-0.1,0.65),(-0.08,0.62),(-0.06,0.6),(-0.15,0.8),(-0.13,0.78),(-0.11,0.74),(-0.09,0.7),
    (-0.07,0.8),(-0.05,0.72),(-0.03,0.66),(-0.08,0.88),(-0.12,0.92),(-0.17,0.95),(-0.1,0.5),(-0.08,0.47),(-0.06,0.52),(-0.04,0.5),
    (-0.02,0.55),(0.0,0.6),(-0.28,0.67),(-0.26,0.64),(-0.24,0.6),(-0.3,0.7),(-0.36,0.68),(-0.33,0.62),(-0.2,0.57),(-0.22,0.62),
    (-0.06,0.44),(-0.04,0.58),(-0.01,0.75),(0.02,0.8),(-0.14,0.88),
    (-0.416,1.278),(-0.355,1.12),(-0.283,1.107),(-0.229,1.12),(-0.13,1.107),(-0.097,1.08),(-0.007,1.18),(0.014,0.96),(0.04,0.93),(0.21,0.975),
    (0.21,0.65),(0.256,0.55),(0.076,0.55),(0.02,0.55),(-0.33,0.55),(-0.29,0.55),(-0.052,0.41),(0.0,0.49),(-0.45,1.06),(-0.08,1.0),
    (-0.05,0.9),(0.05,0.7),(-0.36,1.08),
]
aids_vs_asympt_core = [
    (-0.137,0.567),(-0.148,0.583),(-0.159,0.611),(-0.163,0.587),(-0.171,0.634),(-0.178,0.662),(-0.183,0.641),(-0.192,0.687),(-0.197,0.662),(-0.203,0.713),
    (-0.208,0.687),(-0.213,0.738),(-0.219,0.712),(-0.227,0.757),(-0.232,0.734),(-0.238,0.776),(-0.243,0.752),(-0.249,0.797),(-0.253,0.772),(-0.258,0.817),
    (-0.263,0.794),(-0.268,0.838),(-0.273,0.813),(-0.278,0.857),(-0.283,0.832),(-0.288,0.873),(-0.293,0.851),(-0.298,0.893),(-0.303,0.872),(-0.308,0.907),
    (-0.313,0.867),(-0.318,0.927),(-0.323,0.884),(-0.328,0.913),(-0.338,0.931),(-0.343,0.897),(-0.353,0.948),(-0.363,0.917),(-0.373,0.963),(-0.387,0.937),
    (-0.117,0.517),(-0.108,0.527),(-0.103,0.513),(-0.097,0.507),(-0.113,0.537),(-0.127,0.533),(-0.131,0.517),(-0.142,0.538),(-0.153,0.567),(-0.158,0.547),
    (-0.167,0.603),(-0.173,0.583),(-0.186,0.617),(-0.188,0.703),(-0.198,0.733),(-0.211,0.758),(-0.223,0.792),(-0.236,0.818),(-0.247,0.843),(-0.257,0.862),
    (-0.267,0.881),(-0.278,0.903),(-0.289,0.918),(-0.301,0.937),(-0.181,0.602),(-0.193,0.634),(-0.206,0.657),(-0.217,0.683),(-0.229,0.703),(-0.241,0.724),
    (-0.254,0.748),(-0.266,0.763),(-0.279,0.789),(-0.291,0.807),(-0.304,0.831),(-0.317,0.848),(-0.331,0.861),(-0.347,0.877),(-0.358,0.858),(-0.367,0.891),
    (-0.108,0.561),(-0.094,0.543),(-0.087,0.521),(-0.082,0.583),(-0.076,0.547),(-0.119,0.577),(-0.134,0.597),(-0.147,0.623),(-0.161,0.651),(-0.176,0.687),
    (-0.152,0.507),(-0.143,0.487),(-0.124,0.483),(-0.113,0.497),(-0.163,0.527),(-0.228,0.657),(-0.246,0.683),(-0.262,0.707),(-0.284,0.731),(-0.214,0.637),
]
aids_vs_asympt_band = [
    (-0.141,0.612),(-0.152,0.641),(-0.166,0.663),(-0.177,0.703),(-0.187,0.724),(-0.196,0.752),(-0.206,0.773),(-0.218,0.807),(-0.229,0.827),(-0.241,0.851),
    (-0.251,0.876),(-0.262,0.897),(-0.274,0.918),(-0.286,0.941),(-0.297,0.958),(-0.311,0.958),(-0.326,0.971),(-0.339,0.951),(-0.297,0.827),(-0.286,0.808),
    (-0.272,0.776),(-0.259,0.731),(-0.243,0.706),(-0.231,0.681),(-0.219,0.662),(-0.204,0.633),(-0.191,0.614),(-0.178,0.589),(-0.164,0.563),(-0.153,0.537),
    (-0.128,0.559),(-0.118,0.547),(-0.107,0.537),(-0.099,0.561),(-0.091,0.512),(-0.103,0.492),(-0.116,0.511),(-0.133,0.503),(-0.146,0.513),(-0.156,0.583),
    (-0.126,0.601),(-0.116,0.623),(-0.104,0.607),(-0.088,0.601),(-0.073,0.623),(-0.066,0.571),(-0.061,0.538),(-0.079,0.503),(-0.071,0.481),(-0.091,0.467),
    (-0.383,0.877),(-0.396,0.897),(-0.408,0.943),(-0.417,0.917),(-0.428,0.963),(-0.438,0.987),(-0.451,0.967),(-0.463,1.021),(-0.429,1.031),(-0.413,0.993),
    (-0.186,0.787),(-0.173,0.761),(-0.166,0.727),(-0.152,0.693),(-0.142,0.667),(-0.131,0.648),(-0.121,0.621),(-0.207,0.824),(-0.223,0.857),(-0.238,0.896),
]

panel_points = [
    acute_vs_uninfected + acute_vs_uninfected_core + acute_vs_uninfected_arm,
    asympt_vs_uninfected + asympt_vs_uninfected_core + asympt_vs_uninfected_band,
    aids_vs_uninfected + aids_vs_uninfected_core + aids_vs_uninfected_cloud,
    asympt_vs_acute + asympt_vs_acute_core + asympt_vs_acute_arm,
    aids_vs_acute + aids_vs_acute_core + aids_vs_acute_band,
    aids_vs_asympt + aids_vs_asympt_core + aids_vs_asympt_band,
]

# ---------------- layout (pixel boxes and axis ranges) ----------------
boxes = [  # x0, x1, y0(top), y1(bottom) in pixels
    (30, 174, 27, 152), (210.7, 354, 27, 152), (391.7, 537, 27, 152),
    (30, 174, 211, 337.7), (210.7, 354, 211, 337.7), (391.7, 537, 211, 337.7),
]
x_ranges = [(-0.301, 0.43), (-0.186, 0.431), (-0.494, 0.401),
            (-0.246, 0.318), (-0.513, 0.296), (-0.494, 0.288)]
y_ranges = [(0.383, 1.17), (0.381, 1.179), (0.525, 1.358),
            (0.212, 1.158), (0.335, 1.316), (0.362, 1.321)]

FONT = "Arial, Liberation Sans, Helvetica, sans-serif"
RED = "#e8403a"


def fmt(v):
    return "0" if v == 0 else f"{v:.1f}"


def px(xp):
    return xp / W


def py(yp):
    return 1 - yp / H


fig = go.Figure()
annotations = []
layout_axes = {}

for i in range(6):
    n = "" if i == 0 else str(i + 1)
    xa, ya = "x" + n, "y" + n
    pts = panel_points[i]
    fig.add_trace(go.Scatter(
        x=[p[0] for p in pts], y=[p[1] for p in pts], mode="markers",
        marker=dict(size=2.2, color="black", line=dict(width=0)),
        xaxis=xa, yaxis=ya, showlegend=False, hoverinfo="skip"))

    x0, x1, y0, y1 = boxes[i]
    common = dict(showline=True, mirror=True, linecolor="black", linewidth=1,
                  ticks="outside", ticklen=4, tickwidth=1, tickcolor="black",
                  showgrid=False, zeroline=False, showticklabels=False)
    layout_axes["xaxis" + n] = dict(
        common, domain=[px(x0), px(x1)], anchor=ya, range=list(x_ranges[i]),
        tickmode="array", tickvals=x_tick_values[i])
    layout_axes["yaxis" + n] = dict(
        common, domain=[py(y1), py(y0)], anchor=xa, range=list(y_ranges[i]),
        tickmode="array", tickvals=y_tick_values[i])

    # tick labels placed on the axis scales
    for v in x_tick_values[i]:
        annotations.append(dict(
            x=v, y=py(y1 + 11.5), xref=xa, yref="paper", showarrow=False,
            text=fmt(v), xanchor="center", yanchor="middle",
            font=dict(family=FONT, size=11, color="black")))
    for v in y_tick_values[i]:
        annotations.append(dict(
            x=px(x0 - 10), y=v, xref="paper", yref=ya, showarrow=False,
            text=fmt(v), textangle=-90, xanchor="center", yanchor="middle",
            font=dict(family=FONT, size=11, color="black")))

    cx = (x0 + x1) / 2
    cy = (y0 + y1) / 2
    # panel title and subtitle
    annotations.append(dict(
        x=px(cx), y=py(y0 - 20.5), xref="paper", yref="paper", showarrow=False,
        text="<b>" + panel_titles[i] + "</b>", xanchor="center", yanchor="middle",
        font=dict(family=FONT, size=12, color="black")))
    annotations.append(dict(
        x=px(cx), y=py(y0 - 7.5), xref="paper", yref="paper", showarrow=False,
        text="(PCC = " + pcc_values[i] + ", <i>p-value</i> " + p_value_texts[i] + ")",
        xanchor="center", yanchor="middle",
        font=dict(family=FONT, size=11, color="black")))
    # axis titles
    annotations.append(dict(
        x=px(cx), y=py(y1 + 23.5), xref="paper", yref="paper", showarrow=False,
        text=x_label, xanchor="center", yanchor="middle",
        font=dict(family=FONT, size=13, color="black")))
    annotations.append(dict(
        x=px(x0 - 20), y=py(cy), xref="paper", yref="paper", showarrow=False,
        text=y_label, textangle=-90, xanchor="center", yanchor="middle",
        font=dict(family=FONT, size=13, color="black")))

# highlighted genes in AIDS/Uninfected panel
fig.add_trace(go.Scatter(
    x=highlight_x, y=highlight_y, mode="markers",
    marker=dict(size=8, color="rgba(0,0,0,0)", line=dict(width=1.2, color=RED)),
    xaxis="x3", yaxis="y3", showlegend=False, hoverinfo="skip"))
label_shifts = [(1, 9), (6, -8), (-9, -8)]
for g, gx, gy, (sx, sy) in zip(highlight_genes, highlight_x, highlight_y, label_shifts):
    annotations.append(dict(
        x=gx, y=gy, xref="x3", yref="y3", showarrow=False, text=g,
        xshift=sx, yshift=sy, xanchor="center", yanchor="middle",
        font=dict(family=FONT, size=10, color=RED)))

fig.update_layout(
    width=W, height=H, margin=dict(l=0, r=0, t=0, b=0),
    paper_bgcolor="white", plot_bgcolor="white",
    annotations=annotations, **layout_axes)

fig.write_html("out.html",
               config={"displayModeBar": False},
               post_script="document.body.style.margin='0';"
                           "document.body.style.overflow='hidden';")
